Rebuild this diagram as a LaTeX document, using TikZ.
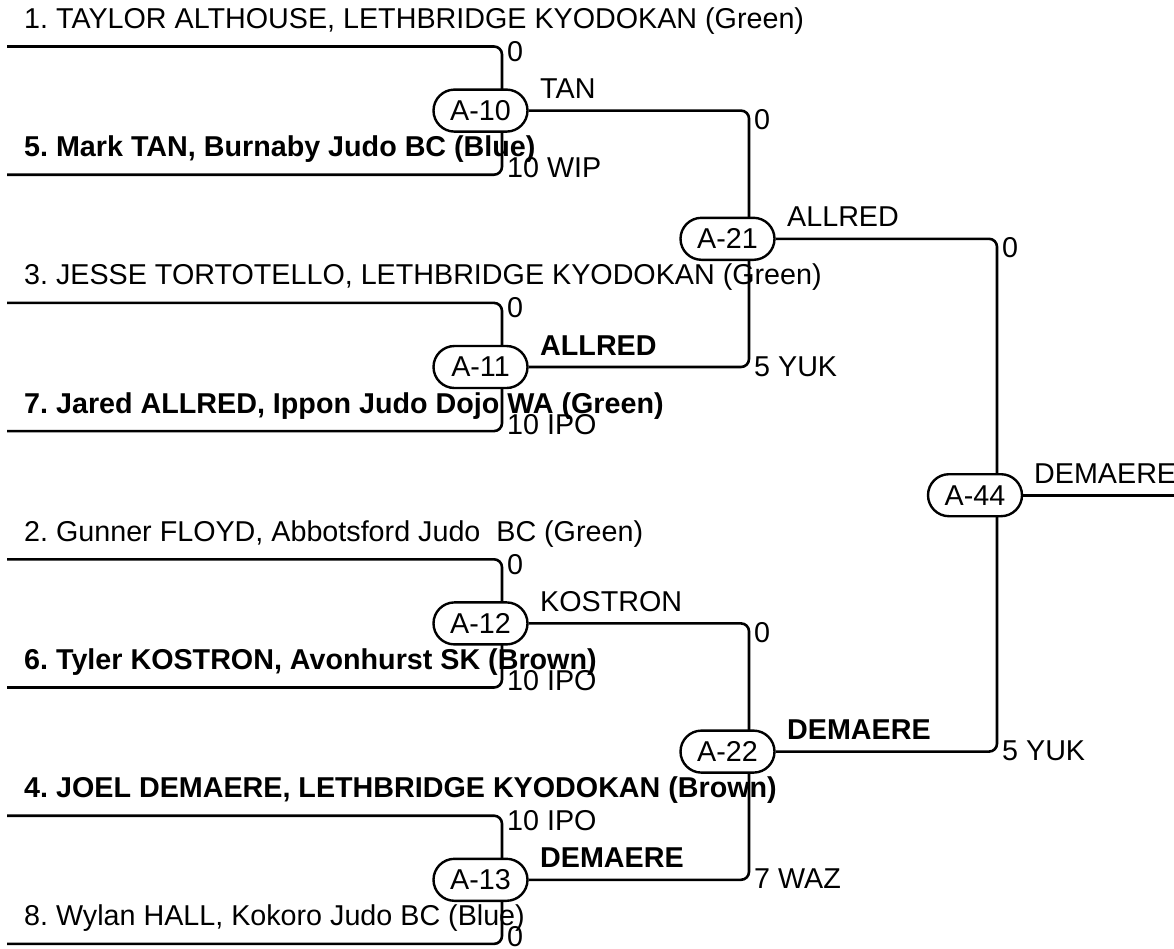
\documentclass[tikz,border=0pt]{standalone}
\usepackage{fontspec}
\setmainfont{Liberation Sans}
\usetikzlibrary{shapes.misc,backgrounds}
\frenchspacing
\begin{document}
\begin{tikzpicture}[x=1pt,y=-1pt,
  txt/.style={font=\fontsize{28.7}{34}\selectfont, inner sep=0pt, anchor=base west},
  bname/.style={txt, font=\fontsize{28.7}{34}\selectfont\bfseries},
  pill/.style={rounded rectangle, draw, fill=white, line width=2.4pt, minimum width=94pt, minimum height=42pt, inner sep=0pt, font=\fontsize{28.7}{34}\selectfont},
  wire/.style={line width=2.6pt, rounded corners=8pt}]
\useasboundingbox (0,0) rectangle (1174,948);

% match nodes
\node[pill] (A10) at (480.5,110.6) {A-10};
\node[pill] (A11) at (480.5,367) {A-11};
\node[pill] (A12) at (480.5,623.4) {A-12};
\node[pill] (A13) at (480.5,879.8) {A-13};
\node[pill] (A21) at (727.5,238.8) {A-21};
\node[pill] (A22) at (727.5,751.6) {A-22};
\node[pill] (A44) at (975,495.2) {A-44};

% player line starts
\coordinate (p1) at (7,46.5);
\coordinate (p5) at (7,174.7);
\coordinate (p3) at (7,302.9);
\coordinate (p7) at (7,431.1);
\coordinate (p2) at (7,559.3);
\coordinate (p6) at (7,687.5);
\coordinate (p4) at (7,815.7);
\coordinate (p8) at (7,943.9);
\coordinate (fin) at (1174,495.2);

\begin{scope}[on background layer]
\draw[wire] (p1) -| ([xshift=21.5pt]A10.center);
\draw[wire] (p5) -| ([xshift=21.5pt]A10.center);
\draw[wire] (p3) -| ([xshift=21.5pt]A11.center);
\draw[wire] (p7) -| ([xshift=21.5pt]A11.center);
\draw[wire] (p2) -| ([xshift=21.5pt]A12.center);
\draw[wire] (p6) -| ([xshift=21.5pt]A12.center);
\draw[wire] (p4) -| ([xshift=21.5pt]A13.center);
\draw[wire] (p8) -| ([xshift=21.5pt]A13.center);
\draw[wire] (A10.east) -| ([xshift=21.5pt]A21.center);
\draw[wire] (A11.east) -| ([xshift=21.5pt]A21.center);
\draw[wire] (A12.east) -| ([xshift=21.5pt]A22.center);
\draw[wire] (A13.east) -| ([xshift=21.5pt]A22.center);
\draw[wire] (A21.east) -| ([xshift=22pt]A44.center);
\draw[wire] (A22.east) -| ([xshift=22pt]A44.center);
\draw[wire] (A44.east) -- (fin);
\end{scope}

% player names
\node[txt] (n1) at (24,28.5) {1. TAYLOR ALTHOUSE, LETHBRIDGE KYODOKAN (Green)};
\node[bname] (n5) at (24,156.7) {5. Mark TAN, Burnaby Judo BC (Blue)};
\node[txt] (n3) at (24,284.9) {3. JESSE TORTOTELLO, LETHBRIDGE KYODOKAN (Green)};
\node[bname] (n7) at (24,413.1) {7. Jared ALLRED, Ippon Judo Dojo WA (Green)};
\node[txt] (n2) at (24,541.3) {2. Gunner FLOYD, Abbotsford Judo\ \ BC (Green)};
\node[bname] (n6) at (24,669.5) {6. Tyler KOSTRON, Avonhurst SK (Brown)};
\node[bname] (n4) at (24,797.7) {4. JOEL DEMAERE, LETHBRIDGE KYODOKAN (Brown)};
\node[txt] (n8) at (24,925.9) {8. Wylan HALL, Kokoro Judo BC (Blue)};

% winners
\node[txt] (w10) at (540,98.6) {TAN};
\node[bname] (w11) at (540,355) {ALLRED};
\node[txt] (w12) at (540,611.4) {KOSTRON};
\node[bname] (w13) at (540,867.8) {DEMAERE};
\node[txt] (w21) at (787,226.8) {ALLRED};
\node[bname] (w22) at (787,739.6) {DEMAERE};
\node[txt] (w44) at (1034,483.2) {DEMAERE};

% scores
\node[txt] (s10a) at (507,61.5) {0};
\node[txt] (s10b) at (507,177.7) {10 WIP};
\node[txt] (s11a) at (507,317.9) {0};
\node[txt] (s11b) at (507,434.1) {10 IPO};
\node[txt] (s12a) at (507,574.3) {0};
\node[txt] (s12b) at (507,690.5) {10 IPO};
\node[txt] (s13a) at (507,830.7) {10 IPO};
\node[txt] (s13b) at (507,946.9) {0};
\node[txt] (s21a) at (754,129.6) {0};
\node[txt] (s21b) at (754,376) {5 YUK};
\node[txt] (s22a) at (754,642.4) {0};
\node[txt] (s22b) at (754,888.8) {7 WAZ};
\node[txt] (s44a) at (1002,257.8) {0};
\node[txt] (s44b) at (1002,760.6) {5 YUK};
\end{tikzpicture}
\end{document}
